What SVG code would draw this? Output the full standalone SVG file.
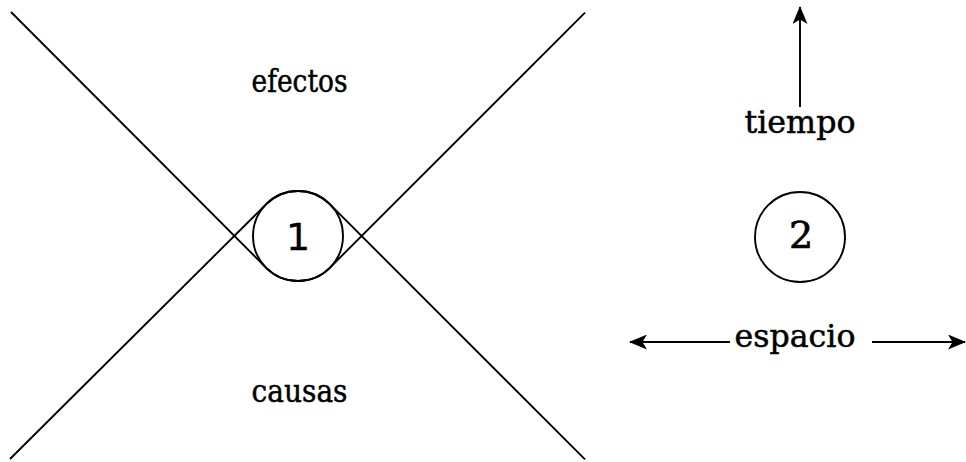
<svg xmlns="http://www.w3.org/2000/svg" width="966" height="462" viewBox="0 0 966 462">
<style>
.ln{fill:none;stroke:#000;stroke-width:1.9}
.t{font-family:'DejaVu Serif',serif;font-size:31px;fill:#000;text-anchor:middle;stroke:#000;stroke-width:0.5}
.n1{font-family:'DejaVu Sans',sans-serif;font-size:38px;fill:#000;text-anchor:middle;stroke:#000;stroke-width:0.3}
.n2{font-family:'DejaVu Serif',serif;font-size:38px;fill:#000;text-anchor:middle;stroke:#000;stroke-width:0.7}
</style>
<defs>
<marker id="ah" viewBox="0 0 18 15" refX="17" refY="7.5" markerWidth="18" markerHeight="15" markerUnits="userSpaceOnUse" orient="auto">
<path d="M0,0 L18,7.5 L0,15 L4.5,7.5 Z" fill="#000"/>
</marker>
</defs>
<rect width="966" height="462" fill="#fff"/>
<g id="connectors">
<path class="ln" d="M11,12 L266.2,267.8 A45,45 0 0 0 329.8,267.8 L585,12.6"/>
<path class="ln" d="M10,459 L266.2,204.2 A45,45 0 0 1 329.8,204.2 L585,459.4"/>
<line class="ln" x1="800" y1="107" x2="800" y2="7" marker-end="url(#ah)"/>
<line class="ln" x1="730" y1="342" x2="630" y2="342" marker-end="url(#ah)"/>
<line class="ln" x1="872" y1="342" x2="965" y2="342" marker-end="url(#ah)"/>
</g>
<g id="node1">
<circle class="ln" cx="298" cy="236" r="45"/>
<text class="n1" x="298" y="250">1</text>
</g>
<g id="node2">
<circle class="ln" cx="800" cy="237" r="45"/>
<text class="n2" x="801" y="248">2</text>
</g>
<g id="efectos"><text class="t" x="299.5" y="92" textLength="96" lengthAdjust="spacingAndGlyphs">efectos</text></g>
<g id="causas"><text class="t" x="299.5" y="402" textLength="96" lengthAdjust="spacingAndGlyphs">causas</text></g>
<g id="tiempo"><text class="t" x="800" y="133" textLength="111" lengthAdjust="spacingAndGlyphs">tiempo</text></g>
<g id="espacio"><text class="t" x="795" y="347" textLength="121" lengthAdjust="spacingAndGlyphs">espacio</text></g>
</svg>
